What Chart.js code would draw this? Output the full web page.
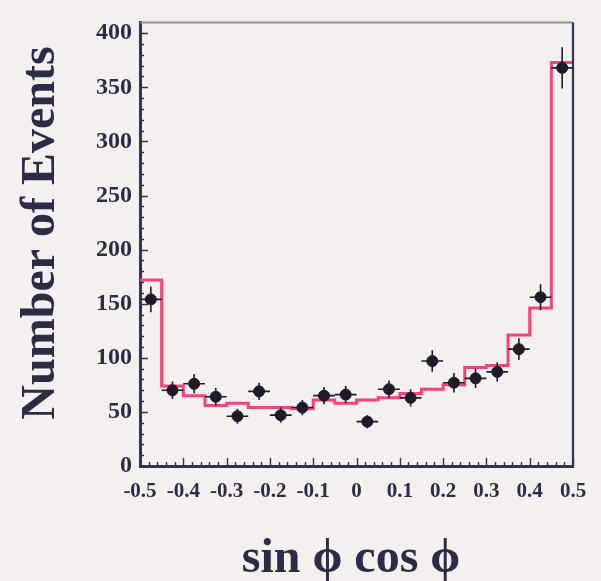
<!DOCTYPE html>
<html>
<head>
<meta charset="utf-8">
<script src="https://cdn.jsdelivr.net/npm/chart.js@4.4.1/dist/chart.umd.min.js"></script>
<style>
  html, body { margin: 0; padding: 0; background: #f3f0ef; }
  #wrap { width: 601px; height: 581px; }
</style>
</head>
<body>
<div id="wrap"><canvas id="chart" width="601" height="581"></canvas></div>
<script>
// sin(phi)cos(phi) distribution: MC histogram (pink) vs data points
const binEdges   = [-0.5, -0.45, -0.4, -0.35, -0.3, -0.25, -0.2, -0.15, -0.1, -0.05, 0,
                    0.05, 0.1, 0.15, 0.2, 0.25, 0.3, 0.35, 0.4, 0.45, 0.5];
const binCenters = [-0.475, -0.425, -0.375, -0.325, -0.275, -0.225, -0.175, -0.125, -0.075, -0.025,
                    0.025, 0.075, 0.125, 0.175, 0.225, 0.275, 0.325, 0.375, 0.425, 0.475];
const mcCounts   = [172, 74, 65, 56, 58, 54, 54, 53, 61, 58, 61, 63, 67, 71, 75, 91, 93, 121, 146, 373];
const dataCounts = [154, 70, 76, 64, 46, 69, 47, 54, 65, 66, 41, 71, 63, 97, 77, 81, 87, 108, 156, 368];
const dataErrors = [12, 8, 9, 8, 7, 8, 7, 7, 8, 8, 6, 8, 8, 10, 9, 9, 9, 10, 12, 19];
const halfBin    = 0.025;

const yTicks = [0, 50, 100, 150, 200, 250, 300, 350, 400];
const xTicks = [-0.5, -0.4, -0.3, -0.2, -0.1, 0, 0.1, 0.2, 0.3, 0.4, 0.5];

const INK = '#2f2a45';
const AXIS = '#37334f';
const SERIF = '"Liberation Serif", "Times New Roman", serif';

// histogram as step line through bin edges
const histPoints = mcCounts.map((v, i) => ({ x: binEdges[i], y: v }));
histPoints.push({ x: binEdges[binEdges.length - 1], y: mcCounts[mcCounts.length - 1] });

const dataPoints = dataCounts.map((v, i) => ({ x: binCenters[i], y: v }));

const paper = {
  id: 'paper',
  beforeDraw(chart) {
    const c = chart.ctx;
    c.save();
    c.fillStyle = '#f3f0ef';
    c.fillRect(0, 0, chart.width, chart.height);
    c.restore();
  }
};

const errorBars = {
  id: 'errorBars',
  afterDatasetsDraw(chart) {
    const c = chart.ctx, xs = chart.scales.x, ys = chart.scales.y;
    c.save();
    c.strokeStyle = '#1f1b28';
    c.lineWidth = 1.6;
    dataCounts.forEach((v, i) => {
      const px = xs.getPixelForValue(binCenters[i]);
      const py = ys.getPixelForValue(v);
      c.beginPath();
      c.moveTo(px, ys.getPixelForValue(v - dataErrors[i]));
      c.lineTo(px, ys.getPixelForValue(v + dataErrors[i]));
      c.moveTo(xs.getPixelForValue(binCenters[i] - halfBin), py);
      c.lineTo(xs.getPixelForValue(binCenters[i] + halfBin), py);
      c.stroke();
    });
    c.restore();
  }
};

const frame = {
  id: 'frame',
  afterDraw(chart) {
    const c = chart.ctx, a = chart.chartArea, xs = chart.scales.x, ys = chart.scales.y;
    c.save();
    // top and right border
    c.strokeStyle = '#8e8ba3';
    c.lineWidth = 2;
    c.beginPath(); c.moveTo(a.left, a.top); c.lineTo(a.right, a.top); c.stroke();
    c.strokeStyle = AXIS;
    c.lineWidth = 2.2;
    c.beginPath(); c.moveTo(a.right, a.top); c.lineTo(a.right, a.bottom); c.stroke();

    // inward ticks
    c.strokeStyle = AXIS;
    c.lineWidth = 1.4;
    c.beginPath();
    for (let k = 0; k <= 40; k++) {
      const py = Math.round(ys.getPixelForValue(k * 10)) + 0.5;
      const len = (k % 5 === 0) ? 8 : 4;
      c.moveTo(a.left, py); c.lineTo(a.left + len, py);
    }
    for (let k = 0; k <= 50; k++) {
      const px = Math.round(xs.getPixelForValue(-0.5 + k * 0.02)) + 0.5;
      const len = (k % 5 === 0) ? 8 : 4;
      c.moveTo(px, a.bottom); c.lineTo(px, a.bottom - len);
    }
    c.stroke();

    // axis titles
    c.fillStyle = INK;
    c.font = 'bold 48px ' + SERIF;
    c.textAlign = 'center';
    c.textBaseline = 'alphabetic';
    c.save();
    c.translate(54, 233);
    c.rotate(-Math.PI / 2);
    c.fillText('Number of Events', 0, 0);
    c.restore();
    c.font = 'bold 48px ' + SERIF;
    c.fillText('sin \u03D5 cos \u03D5', 351, 572);
    c.restore();
  }
};

new Chart(document.getElementById('chart'), {
  type: 'scatter',
  data: {
    datasets: [
      {
        type: 'line',
        label: 'MC',
        data: histPoints,
        stepped: true,
        borderColor: '#f2467b',
        borderWidth: 3,
        pointRadius: 0,
        fill: false,
        order: 2
      },
      {
        type: 'scatter',
        label: 'Data',
        data: dataPoints,
        pointRadius: 5.5,
        pointBackgroundColor: '#1f1b28',
        pointBorderColor: '#1f1b28',
        order: 1
      }
    ]
  },
  options: {
    responsive: false,
    animation: false,
    layout: { padding: { top: 12, right: 28, left: 0, bottom: 0 } },
    plugins: { legend: { display: false }, tooltip: { enabled: false } },
    scales: {
      x: {
        type: 'linear',
        min: -0.5, max: 0.5,
        afterFit(s) { s.height = 115; },
        afterBuildTicks(s) { s.ticks = xTicks.map(v => ({ value: v })); },
        grid: { display: false, drawTicks: false },
        border: { display: true, color: AXIS, width: 3 },
        ticks: {
          padding: 13,
          color: INK,
          maxRotation: 0,
          autoSkip: false,
          font: { family: SERIF, weight: 'bold', size: 21 },
          callback: v => (Math.abs(v) < 1e-9 ? '0' : (+v.toFixed(1)).toString())
        }
      },
      y: {
        min: 0, max: 410,
        afterFit(s) { s.width = 140; },
        afterBuildTicks(s) { s.ticks = yTicks.map(v => ({ value: v })); },
        grid: { display: false, drawTicks: false },
        border: { display: true, color: AXIS, width: 3 },
        ticks: {
          padding: 8,
          color: INK,
          autoSkip: false,
          font: { family: SERIF, weight: 'bold', size: 24 }
        }
      }
    }
  },
  plugins: [paper, errorBars, frame]
});
</script>
</body>
</html>
